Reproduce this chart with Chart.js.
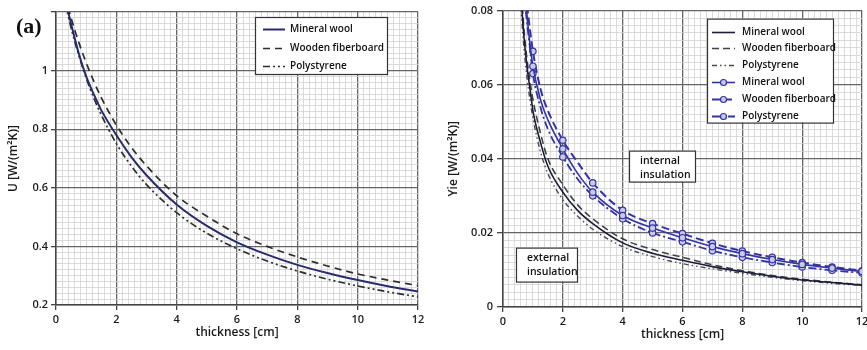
<!DOCTYPE html>
<html><head><meta charset="utf-8">
<script src="https://cdn.jsdelivr.net/npm/chart.js@4"></script>
<style>
html,body{margin:0;padding:0;background:#fff;overflow:hidden;width:867px;height:350px}
#wrapL{position:absolute;left:0;top:0;width:430px;height:350px}
#wrapR{position:absolute;left:440px;top:0;width:432px;height:350px}
#tag{position:absolute;left:16px;top:13px;font:bold 22px "Liberation Serif",serif;color:#111}
</style></head><body>
<div id="wrapL"><canvas id="cL"></canvas></div>
<div id="wrapR"><canvas id="cR"></canvas></div>
<div id="tag">(a)</div>
<script>
// ---- data: left chart (U-value) ----
const uThickness = [0.3,0.5,0.75,1,1.25,1.5,2,2.5,3,4,5,6,7,8,9,10,11,12];
const uMineralWool = [1.245,1.16,1.06,0.98,0.92,0.865,0.78,0.705,0.643,0.543,0.47,0.414,0.372,0.337,0.309,0.285,0.264,0.246];
const uWoodenFiberboard = [1.256,1.18,1.098,1.027,0.964,0.908,0.814,0.738,0.675,0.573,0.503,0.443,0.4,0.364,0.333,0.306,0.285,0.266];
const uPolystyrene = [1.232,1.146,1.054,0.975,0.907,0.849,0.751,0.674,0.611,0.515,0.445,0.392,0.35,0.316,0.288,0.265,0.245,0.228];

// ---- data: right chart (Yie) ----
const yieThickness = [0.6,0.7,0.8,0.9,1,1.25,1.5,2,2.5,3,4,5,6,7,8,9,10,11,12];
const extMineralWool = [0.084,0.073,0.065,0.059,0.053,0.0445,0.038,0.031,0.026,0.0225,0.0173,0.0145,0.0126,0.0109,0.0095,0.0083,0.0073,0.0066,0.0059];
const extWoodenFiberboard = [0.087,0.075,0.067,0.061,0.056,0.047,0.040,0.033,0.0275,0.0238,0.0184,0.0155,0.0134,0.0114,0.0098,0.0085,0.0075,0.0067,0.006];
const extPolystyrene = [0.081,0.070,0.062,0.056,0.051,0.042,0.036,0.029,0.0245,0.021,0.0163,0.0136,0.0117,0.0103,0.0091,0.008,0.0071,0.0064,0.0058];
const intMineralWool = [0.1,0.088,0.079,0.071,0.065,0.056,0.0505,0.0427,0.036,0.031,0.0247,0.0213,0.0187,0.0163,0.0144,0.0128,0.0115,0.0105,0.0096];
const intWoodenFiberboard = [0.104,0.092,0.082,0.075,0.069,0.059,0.053,0.045,0.039,0.0335,0.0261,0.0225,0.0198,0.0172,0.0151,0.0134,0.012,0.0108,0.0098];
const intPolystyrene = [0.097,0.085,0.077,0.070,0.063,0.054,0.048,0.0405,0.0345,0.030,0.0238,0.020,0.0176,0.0152,0.0134,0.012,0.0108,0.0099,0.0092];

// ---- labels ----
const seriesLabels = ['Mineral wool','Wooden fiberboard','Polystyrene'];
const xTitle = 'thickness [cm]';
const uTitle = 'U [W/(m\u00B2K)]';
const yieTitle = 'Yie [W/(m\u00B2K)]';
const noteInternal = ['internal','insulation'];
const noteExternal = ['external','insulation'];

const FONT = '"Open Sans","DejaVu Sans",sans-serif';
const near = (v, step) => Math.abs(v/step - Math.round(v/step)) < 1e-6;
const fmt = v => String(parseFloat(Number(v).toFixed(4)));
const pts = (xs, ys) => xs.map((x,i)=>({x, y: ys[i]}));

function gridScale(min, max, minor, major, o){
  return {
    type:'linear', min, max,
    ticks:{stepSize:minor, autoSkip:false, maxRotation:0, padding:o.pad, color:'#1a1a1a',
      font:{family:FONT, size:11, weight:'600'},
      callback:(v)=> (near(v,major) && !(o.hideMax && Math.abs(v-max)<1e-9)) ? fmt(v) : ''},
    grid:{
      color:c=> near(c.tick.value,major) ? '#666' : '#d2d2d2',
      lineWidth:c=> near(c.tick.value,major) ? 1.3 : 0.8,
      tickLength:o.tl,
      tickColor:c=> near(c.tick.value,major) ? '#444' : 'rgba(0,0,0,0)'
    },
    border:{display:true, color:'#444', width:1.5},
    title:{display:true, text:o.title, color:'#1a1a1a', font:{family:FONT, size:12, weight:'600'}, padding:o.tpad},
    afterFit: s => { if (o.w) s.width = o.w; if (o.h) s.height = o.h; }
  };
}

const boxLegend = {
  id:'boxLegend',
  afterDatasetsDraw(chart, args, o){
    const {ctx, chartArea:a} = chart;
    const x = a.left + o.x, y = a.top + o.y;
    ctx.save();
    ctx.fillStyle = '#fff'; ctx.fillRect(x, y, o.w, o.h);
    ctx.strokeStyle = '#333'; ctx.lineWidth = 1.2; ctx.strokeRect(x+0.5, y+0.5, o.w, o.h);
    chart.data.datasets.forEach((ds, i) => {
      const yy = Math.round(y + o.first + i*o.row) + 0.5;
      ctx.beginPath(); ctx.setLineDash(ds.borderDash || []);
      ctx.strokeStyle = ds.borderColor; ctx.lineWidth = ds.borderWidth;
      ctx.moveTo(x + o.sx0, yy); ctx.lineTo(x + o.sx1, yy); ctx.stroke();
      ctx.setLineDash([]);
      if (ds.marker){
        ctx.beginPath(); ctx.arc(x + (o.sx0+o.sx1)/2, yy, 3, 0, Math.PI*2);
        ctx.fillStyle = ds.pointBackgroundColor; ctx.fill();
        ctx.lineWidth = 1.2; ctx.strokeStyle = ds.borderColor; ctx.stroke();
      }
      ctx.fillStyle = '#111'; ctx.textBaseline = 'middle';
      ctx.font = '600 ' + o.fs + 'px ' + FONT;
      ctx.fillText(ds.label, x + o.tx, yy);
    });
    ctx.restore();
  }
};

const noteBoxes = {
  id:'noteBoxes',
  afterDatasetsDraw(chart, args, o){
    if (!o.items) return;
    const {ctx, chartArea:a} = chart;
    ctx.save();
    o.items.forEach(n => {
      const x = a.left + n.x, y = a.top + n.y;
      ctx.fillStyle = '#fff'; ctx.fillRect(x, y, n.w, n.h);
      ctx.strokeStyle = '#333'; ctx.lineWidth = 1.2; ctx.strokeRect(x+0.5, y+0.5, n.w, n.h);
      ctx.fillStyle = '#111'; ctx.textBaseline = 'middle'; ctx.font = '600 10.5px ' + FONT;
      n.lines.forEach((t, i) => ctx.fillText(t, x + 11, y + 10 + i*14));
    });
    ctx.restore();
  }
};

// ---- left chart ----
new Chart(document.getElementById('cL'), {
  type:'line',
  data:{datasets:[
    {label:seriesLabels[0], data:pts(uThickness,uMineralWool), borderColor:'#2a2a6e', borderWidth:2},
    {label:seriesLabels[1], data:pts(uThickness,uWoodenFiberboard), borderColor:'#2e2e2e', borderWidth:1.7, borderDash:[7,5]},
    {label:seriesLabels[2], data:pts(uThickness,uPolystyrene), borderColor:'#2e2e2e', borderWidth:1.7, borderDash:[7,3,2,3,2,3]}
  ]},
  options:{
    responsive:true, maintainAspectRatio:false, animation:false,
    layout:{padding:{top:12, right:12, left:0, bottom:0}},
    elements:{point:{radius:0}, line:{cubicInterpolationMode:'monotone', fill:false}},
    scales:{
      x: gridScale(0, 12, 0.2, 2, {pad:3, tl:5, title:xTitle, tpad:{top:0,bottom:10}, h:45}),
      y: gridScale(0.2, 1.2, 0.02, 0.2, {pad:3, tl:5, title:uTitle, tpad:{top:6,bottom:0}, w:56, hideMax:true})
    },
    plugins:{
      legend:{display:false}, tooltip:{enabled:false},
      boxLegend:{x:199, y:5, w:132, h:57, first:12, row:18.5, sx0:8, sx1:30, tx:35, fs:10},
      noteBoxes:{}
    }
  },
  plugins:[boxLegend, noteBoxes]
});

// ---- right chart ----
const BLUE = '#3434a6';
const markerRadius = c => (c.raw && Number.isInteger(c.raw.x)) ? 3.2 : 0;
new Chart(document.getElementById('cR'), {
  type:'line',
  data:{datasets:[
    {label:seriesLabels[0], data:pts(yieThickness,extMineralWool), borderColor:'#1c1c3c', borderWidth:1.6},
    {label:seriesLabels[1], data:pts(yieThickness,extWoodenFiberboard), borderColor:'#3b473b', borderWidth:1.6, borderDash:[7,4]},
    {label:seriesLabels[2], data:pts(yieThickness,extPolystyrene), borderColor:'#4a4a4a', borderWidth:1.4, borderDash:[5,3,1.5,3,1.5,3]},
    {label:seriesLabels[0], data:pts(yieThickness,intMineralWool), borderColor:BLUE, borderWidth:1.6, marker:true,
      pointRadius:markerRadius, pointBackgroundColor:'#c9c9e2', pointBorderColor:BLUE, pointBorderWidth:1.2},
    {label:seriesLabels[1], data:pts(yieThickness,intWoodenFiberboard), borderColor:BLUE, borderWidth:2, borderDash:[8,4], marker:true,
      pointRadius:markerRadius, pointBackgroundColor:'#c9c9e2', pointBorderColor:BLUE, pointBorderWidth:1.2},
    {label:seriesLabels[2], data:pts(yieThickness,intPolystyrene), borderColor:BLUE, borderWidth:1.8, borderDash:[8,3,2,3], marker:true,
      pointRadius:markerRadius, pointBackgroundColor:'#c9c9e2', pointBorderColor:BLUE, pointBorderWidth:1.2}
  ]},
  options:{
    responsive:true, maintainAspectRatio:false, animation:false,
    layout:{padding:{top:10, right:10, left:0, bottom:0}},
    elements:{point:{radius:0}, line:{cubicInterpolationMode:'monotone', fill:false}},
    scales:{
      x: gridScale(0, 12, 0.2, 2, {pad:3, tl:5, title:xTitle, tpad:{top:0,bottom:8}, h:43}),
      y: gridScale(0, 0.08, 0.002, 0.02, {pad:4, tl:6, title:yieTitle, tpad:{top:6,bottom:0}, w:63})
    },
    plugins:{
      legend:{display:false}, tooltip:{enabled:false},
      boxLegend:{x:204, y:8, w:126, h:104, first:13, row:16.8, sx0:5, sx1:28, tx:35, fs:10},
      noteBoxes:{items:[
        {x:126, y:140, w:66, h:31, lines:noteInternal},
        {x:13, y:237, w:61, h:34, lines:noteExternal}
      ]}
    }
  },
  plugins:[boxLegend, noteBoxes]
});
</script>
</body></html>
